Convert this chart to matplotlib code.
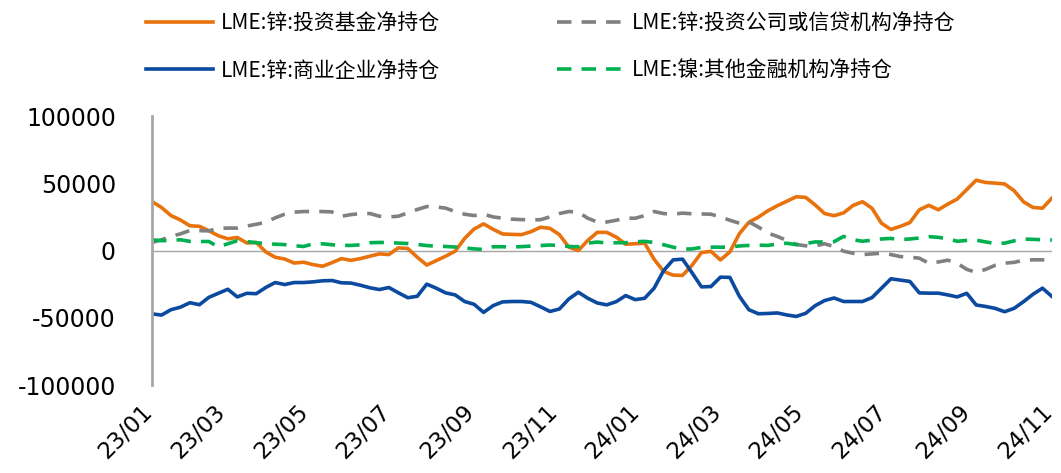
import matplotlib
matplotlib.use('Agg')
import matplotlib.pyplot as plt
import matplotlib.dates as mdates
import matplotlib.transforms as mtransforms
import pandas as pd

plt.rcParams['font.family'] = ['Noto Sans CJK SC', 'DejaVu Sans']
plt.rcParams['axes.unicode_minus'] = False

# weekly dates, 2023-01-06 .. 2024-11-01
dates = pd.date_range('2023-01-06', '2024-11-01', freq='W-FRI')

fund = [36400, 32000, 26000, 22700, 18400, 18000, 14700, 11000, 8700, 9700,
        5600, 6000, -1000, -5000, -6300, -9300, -8700, -10500, -11700, -9000,
        -6000, -7300, -6000, -4200, -2500, -3000, 2000, 1500, -5000, -10800,
        -7500, -4200, -500, 9000, 16000, 19800, 15800, 12300, 12000, 11800,
        14000, 17300, 16500, 11800, 2500, 0, 7500, 13500, 13500, 10000,
        4700, 5000, 5500, -6500, -15500, -18300, -18500, -11000, -1500, -600,
        -7000, -1000, 12500, 21000, 24800, 29500, 33300, 36600, 40000, 39500,
        33900, 27500, 25900, 28000, 33500, 36300, 31400, 20300, 15700, 18000,
        20800, 30300, 33600, 30300, 34500, 38300, 45300, 52300, 50600, 50100,
        49500, 44500, 36200, 32000, 31500, 39000]

invest_credit = [6000, 8000, 10500, 12400, 14900, 14800, 14600, 16500, 16700, 16700,
                 18200, 19500, 21000, 24300, 27000, 28500, 29000, 29000, 29000, 28700,
                 25500, 26700, 27500, 27500, 25500, 25000, 25500, 28000, 30500, 32700,
                 32400, 31500, 29000, 27000, 26000, 27000, 25000, 24000, 23300, 23000,
                 22800, 22900, 25000, 27500, 29000, 28500, 24000, 21200, 21200, 22500,
                 24000, 24000, 26000, 29000, 27500, 27000, 27800, 27300, 27200, 27000,
                 25000, 22500, 20300, 21300, 17500, 13000, 10500, 7500, 4500, 3500,
                 3500, 5000, 3000, -500, -2000, -3000, -2500, -2000, -3000, -4500,
                 -4900, -5700, -9500, -8500, -7200, -9500, -14000, -16300, -14000, -11000,
                 -9400, -8800, -7200, -6900, -6900, -6900]

commercial = [-47100, -48000, -44000, -42100, -38800, -40300, -34800, -31800, -28800, -34500,
              -31800, -32100, -27500, -23800, -25300, -23800, -23800, -23300, -22500, -22300,
              -24000, -24200, -25800, -27700, -29000, -27500, -31400, -35100, -34000, -25000,
              -28000, -31500, -33000, -37900, -40000, -46000, -41000, -38200, -37900, -37900,
              -38500, -41800, -45300, -43500, -36000, -31000, -35500, -39000, -40400, -38000,
              -33500, -36500, -35500, -28000, -15000, -7000, -6400, -16500, -27000, -26800,
              -19800, -20000, -34000, -44000, -47000, -46800, -46400, -47900, -49000, -46700,
              -41000, -37200, -35300, -37900, -37900, -37900, -35000, -28000, -21000, -22000,
              -23000, -31500, -31700, -31700, -33000, -34500, -31800, -40500, -41600, -43000,
              -45500, -43000, -38000, -32500, -28000, -34200]

other_fin = [8000, 7300, 7500, 8000, 6800, 6700, 6700, 2700, 5000, 7300,
             6700, 5800, 5200, 4700, 4400, 3600, 3000, 5000, 5000, 4300,
             3800, 3800, 4200, 5800, 6000, 6000, 5500, 5200, 4500, 3700,
             3200, 3000, 2600, 2000, 1200, 800, 2800, 2800, 2600, 2900,
             3300, 3700, 4100, 3700, 3000, 2800, 5500, 6300, 5600, 5800,
             5800, 6500, 6800, 6000, 4300, 2500, 1000, 1200, 2300, 2500,
             2500, 2500, 3400, 3800, 4000, 3800, 4800, 5400, 4400, 5200,
             6400, 6300, 6600, 10500, 8000, 6900, 7700, 8600, 9000, 8100,
             8600, 9300, 10300, 9800, 8700, 6900, 7500, 7700, 6400, 5200,
             5500, 7200, 8500, 8300, 8000, 7800]

labels = ['LME:锌:投资基金净持仓', 'LME:锌:投资公司或信贷机构净持仓',
          'LME:锌:商业企业净持仓', 'LME:镍:其他金融机构净持仓']

fig = plt.figure(figsize=(10.61, 4.73), dpi=100)
ax = fig.add_axes([0.1433, 0.186, 0.8482, 0.5687])

l1, = ax.plot(dates, fund, color='#E8720C', lw=2.6, solid_joinstyle='round')
l2, = ax.plot(dates, invest_credit, color='#808080', lw=2.6, dashes=(4, 2.8))
l3, = ax.plot(dates, commercial, color='#0B4A9E', lw=2.6, solid_joinstyle='round')
l4, = ax.plot(dates, other_fin, color='#00B050', lw=2.6, dashes=(4, 2.8))

ax.axhline(0, color='#A6A6A6', lw=1, zorder=0)
ax.set_ylim(-100000, 100000)
ax.set_yticks([-100000, -50000, 0, 50000, 100000])
ax.set_xlim(dates[0], dates[-1])

ticks = [dates[0]] + list(pd.date_range('2023-03-01', '2024-11-01', freq='2MS'))
ax.set_xticks(ticks)
ax.xaxis.set_major_formatter(mdates.DateFormatter('%y/%m'))

for s in ['top', 'right', 'bottom']:
    ax.spines[s].set_visible(False)
ax.spines['left'].set_color('#A6A6A6')
ax.spines['left'].set_linewidth(2)
ax.tick_params(axis='both', length=0)
ax.tick_params(axis='y', pad=26)
ax.tick_params(axis='x', pad=11)
for t in ax.get_yticklabels():
    t.set_fontfamily('DejaVu Sans')
    t.set_fontsize(17)
shift = mtransforms.ScaledTranslation(-8 / 72, 0, fig.dpi_scale_trans)
for t in ax.get_xticklabels():
    t.set_fontfamily('DejaVu Sans')
    t.set_fontsize(16.5)
    t.set_rotation(45)
    t.set_ha('right')
    t.set_va('top')
    t.set_rotation_mode('anchor')
    t.set_transform(t.get_transform() + shift)

# matplotlib fills legend columns first
fig.legend([l1, l3, l2, l4], [labels[0], labels[2], labels[1], labels[3]],
           ncol=2, loc='upper left', bbox_to_anchor=(0.12, 1.013),
           frameon=False, fontsize=15, handlelength=3.2, handletextpad=0.4,
           columnspacing=5.6, labelspacing=1.2)

fig.savefig('out.png', dpi=100)
